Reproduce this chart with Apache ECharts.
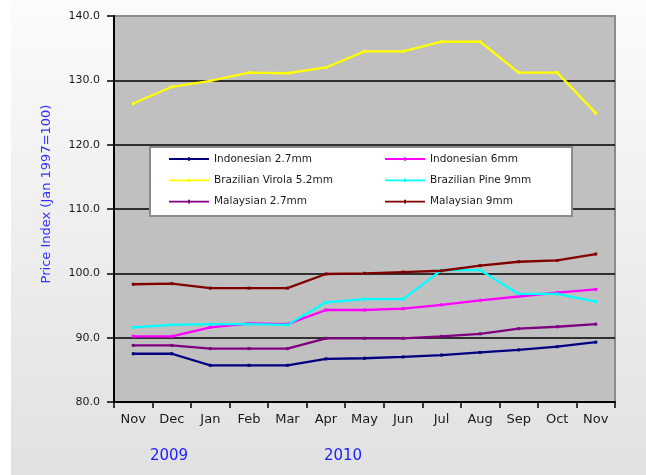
<!DOCTYPE html>
<html>
<head>
<meta charset="utf-8">
<script src="https://cdn.jsdelivr.net/npm/echarts@6/dist/echarts.min.js"></script>
<style>html,body{margin:0;padding:0;}#c{width:646px;height:475px;}</style>
</head>
<body>
<div id="c"></div>
<script>
var categories = ['Nov','Dec','Jan','Feb','Mar','Apr','May','Jun','Jul','Aug','Sep','Oct','Nov'];
var yearLabels = ['2009', '2010'];
var indo27  = [87.5, 87.5, 85.7, 85.7, 85.7, 86.7, 86.8, 87.0, 87.3, 87.7, 88.1, 88.6, 89.3];
var indo6   = [90.2, 90.2, 91.6, 92.2, 92.1, 94.3, 94.3, 94.5, 95.1, 95.8, 96.4, 97.0, 97.5];
var virola  = [126.4, 129.0, 129.9, 131.2, 131.1, 132.0, 134.5, 134.5, 136.0, 136.0, 131.2, 131.2, 124.9];
var pine    = [91.6, 92.0, 92.1, 92.1, 92.0, 95.5, 96.0, 96.0, 100.5, 100.5, 96.8, 96.8, 95.6];
var malay27 = [88.8, 88.8, 88.3, 88.3, 88.3, 89.9, 89.9, 89.9, 90.2, 90.6, 91.4, 91.7, 92.1];
var malay9  = [98.3, 98.4, 97.7, 97.7, 97.7, 99.9, 100.0, 100.2, 100.4, 101.2, 101.8, 102.0, 103.0];

var names = ['Indonesian 2.7mm','Indonesian 6mm','Brazilian Virola 5.2mm','Brazilian Pine 9mm','Malaysian 2.7mm','Malaysian 9mm'];
var colors = ['#000080','#ff00ff','#ffff00','#00ffff','#800080','#800000'];
var datas = [indo27, indo6, virola, pine, malay27, malay9];

var chart = echarts.init(document.getElementById('c'), null, {renderer:'canvas'});
var font = 'DejaVu Sans';
var legendIcon = 'path://M0,1.1H40V2.9H0Z M19,0.2H21V3.8H19Z';

var series = names.map(function(n, i){
  return {
    name: n, type: 'line', data: datas[i],
    symbol: 'rect', symbolSize: 3, showSymbol: true,
    lineStyle: {color: colors[i], width: 2.3},
    itemStyle: {color: colors[i]},
    z: 2
  };
});

var legendCommon = {
  orient: 'vertical', top: 153, padding: 0, itemGap: 9.3,
  itemWidth: 40, itemHeight: 4, z: 10, icon: legendIcon,
  textStyle: {fontFamily: font, fontSize: 10.5, color: '#1a1a1a', lineHeight: 12}
};

chart.setOption({
  animation: false,
  backgroundColor: {type:'linear', x:0, y:0, x2:0, y2:1, colorStops:[{offset:0,color:'#fbfbfb'},{offset:1,color:'#e1e1e1'}]},
  grid: {left: 114, top: 16, width: 501, height: 386, show: true, backgroundColor: '#c0c0c0', borderColor: '#8c8c8c', borderWidth: 2},
  xAxis: {
    type: 'category', data: categories, boundaryGap: true,
    axisLine: {lineStyle: {color: '#000', width: 2}},
    axisTick: {show: true, interval: 0, length: 6, lineStyle: {color: '#000', width: 1.5}},
    axisLabel: {interval: 0, margin: 11, fontFamily: font, fontSize: 13, color: '#1a1a1a'},
    splitLine: {show: false}
  },
  yAxis: {
    type: 'value', min: 80, max: 140, interval: 10,
    axisLine: {show: true, lineStyle: {color: '#000', width: 2}},
    axisTick: {show: true, length: 7, lineStyle: {color: '#000', width: 1.5}},
    axisLabel: {margin: 14, fontFamily: font, fontSize: 11, color: '#1a1a1a', formatter: function(v){return v.toFixed(1);}},
    splitLine: {show: true, showMinLine: false, showMaxLine: false, lineStyle: {color: '#000', width: 1.5}}
  },
  legend: [
    Object.assign({left: 169, data: [names[0], names[2], names[4]]}, legendCommon),
    Object.assign({left: 385, data: [names[1], names[3], names[5]]}, legendCommon)
  ],
  graphic: {elements: [
    {type: 'rect', left: 0, top: 0, shape: {width: 11, height: 475}, style: {fill: '#ffffff'}, z: 0},
    {type: 'rect', shape: {x: 150, y: 147, width: 422, height: 69}, style: {fill: '#ffffff', stroke: '#8c8c8c', lineWidth: 2}, z: 5},
    {type: 'text', x: 47, y: 194, rotation: Math.PI/2, style: {text: 'Price Index (Jan 1997=100)', fill: '#3030ff', font: '13px "DejaVu Sans"', align: 'center', verticalAlign: 'middle'}, z: 10},
    {type: 'text', x: 169, y: 456, style: {text: yearLabels[0], fill: '#2020ff', font: '15px "DejaVu Sans"', align: 'center', verticalAlign: 'middle'}, z: 10},
    {type: 'text', x: 343, y: 456, style: {text: yearLabels[1], fill: '#2020ff', font: '15px "DejaVu Sans"', align: 'center', verticalAlign: 'middle'}, z: 10}
  ]},
  series: series
});
</script>
</body>
</html>
